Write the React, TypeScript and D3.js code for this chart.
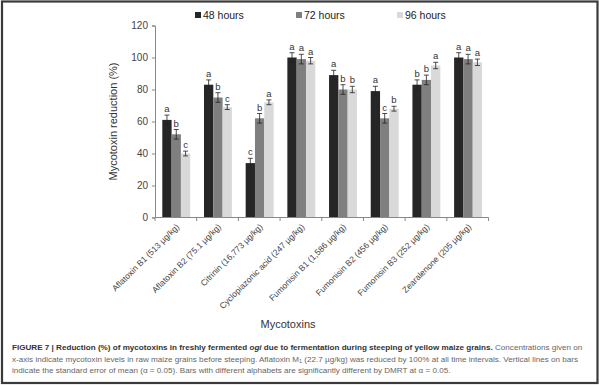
import { useRef, useEffect } from 'react';
import * as d3 from 'd3';

const categories = [
	'Aflatoxin B1 (513 µg/kg)',
	'Aflatoxin B2 (75.1 µg/kg)',
	'Citrinin (16,773 µg/kg)',
	'Cyclopiazonic acid (247 µg/kg)',
	'Fumonisin B1 (1,586 µg/kg)',
	'Fumonisin B2 (456 µg/kg)',
	'Fumonisin B3 (252 µg/kg)',
	'Zearalenone (205 µg/kg)',
];
const seriesNames = ['48 hours', '72 hours', '96 hours'];
const h48 = [61, 83, 34, 100, 89, 79, 83, 100];
const h72 = [52, 75, 62, 99, 80, 62, 86, 99];
const h96 = [40, 69, 72, 98, 80, 68, 95, 97];
const se48 = [3, 3, 3, 3, 3, 3, 3, 3];
const se72 = [3, 3, 3, 3, 3, 3, 3, 3];
const se96 = [1.5, 1.5, 1.5, 2, 2, 1.5, 2, 2];
const letters48 = ['a', 'a', 'c', 'a', 'a', 'a', 'b', 'a'];
const letters72 = ['b', 'b', 'b', 'a', 'b', 'c', 'b', 'a'];
const letters96 = ['c', 'c', 'a', 'a', 'b', 'b', 'a', 'a'];
const yTicks = [0, 20, 40, 60, 80, 100, 120];
const colors = ['#262626', '#7f7f7f', '#d9d9d9'];

const WIDTH = 600;
const HEIGHT = 385;
const FONT = "'Liberation Sans Narrow', 'Liberation Sans', sans-serif";
const CAP_FONT = "'Liberation Sans', Arial, sans-serif";

export default function App() {
	const svgRef = useRef<SVGSVGElement>(null);

	useEffect(() => {
		const svg = d3.select(svgRef.current);
		svg.selectAll('*').remove();

		const values = [h48, h72, h96];
		const errors = [se48, se72, se96];
		const letters = [letters48, letters72, letters96];

		const x = d3
			.scaleBand<string>()
			.domain(categories)
			.range([155, 488.5])
			.padding(0);
		const bw = x.bandwidth();
		const xInner = d3
			.scaleBand<string>()
			.domain(seriesNames)
			.range([bw * 0.175, bw * 0.845])
			.padding(0);
		const y = d3.scaleLinear().domain([0, 120]).range([217.5, 25.5]);

		// frame
		svg.append('rect')
			.attr('x', 2)
			.attr('y', 1.5)
			.attr('width', WIDTH - 4.5)
			.attr('height', HEIGHT - 3.5)
			.attr('fill', 'white')
			.attr('stroke', '#3a3a3a')
			.attr('stroke-width', 2.2);

		// bars
		const groups = svg
			.append('g')
			.selectAll('g')
			.data(categories)
			.join('g')
			.attr('transform', (c) => `translate(${x(c)},0)`);

		seriesNames.forEach((s, si) => {
			groups
				.append('rect')
				.attr('x', xInner(s)!)
				.attr('width', xInner.bandwidth())
				.attr('y', (_, i) => y(values[si][i]))
				.attr('height', (_, i) => y(0) - y(values[si][i]))
				.attr('fill', colors[si]);
		});

		// error bars + letters
		seriesNames.forEach((s, si) => {
			const cx = xInner(s)! + xInner.bandwidth() / 2;
			groups.each(function (_, i) {
				const g = d3.select(this);
				const v = values[si][i];
				const e = errors[si][i];
				g.append('line')
					.attr('x1', cx)
					.attr('x2', cx)
					.attr('y1', y(v - e))
					.attr('y2', y(v + e))
					.attr('stroke', '#222')
					.attr('stroke-width', 0.8);
				[v - e, v + e].forEach((yy) => {
					g.append('line')
						.attr('x1', cx - 2.5)
						.attr('x2', cx + 2.5)
						.attr('y1', y(yy))
						.attr('y2', y(yy))
						.attr('stroke', '#222')
						.attr('stroke-width', 0.8);
				});
				g.append('text')
					.attr('x', cx)
					.attr('y', y(v + e) - 3)
					.attr('text-anchor', 'middle')
					.attr('font-size', 9.5)
					.attr('fill', '#333')
					.text(letters[si][i]);
			});
		});

		// y axis
		const yAxis = svg
			.append('g')
			.attr('transform', 'translate(155,0)')
			.call(d3.axisLeft(y).tickValues(yTicks).tickSize(3).tickPadding(4));
		yAxis.select('.domain').attr('stroke', '#888');
		yAxis.selectAll('.tick line').attr('stroke', '#888');
		yAxis.selectAll('text')
			.attr('font-size', 10)
			.attr('font-family', FONT)
			.attr('fill', '#444');

		// x axis
		const x0 = x.range()[0];
		const x1 = x.range()[1];
		svg.append('line')
			.attr('x1', x0)
			.attr('x2', x1)
			.attr('y1', y(0))
			.attr('y2', y(0))
			.attr('stroke', '#888');
		const tickXs = categories.map((c) => x(c)!).concat([x1]);
		svg.append('g')
			.selectAll('line')
			.data(tickXs)
			.join('line')
			.attr('x1', (d) => d)
			.attr('x2', (d) => d)
			.attr('y1', y(0))
			.attr('y2', y(0) + 3.5)
			.attr('stroke', '#888');

		svg.append('g')
			.selectAll('text')
			.data(categories)
			.join('text')
			.attr(
				'transform',
				(c) => `translate(${x(c)! + bw / 2 + 4},${y(0) + 10}) rotate(-45)`,
			)
			.attr('text-anchor', 'end')
			.attr('font-size', 8.5)
			.attr('font-family', FONT)
			.attr('fill', '#444')
			.text((c) => c);

		// axis titles
		svg.append('text')
			.attr('transform', `translate(117,${y(60)}) rotate(-90)`)
			.attr('text-anchor', 'middle')
			.attr('font-size', 11)
			.attr('font-family', FONT)
			.attr('fill', '#333')
			.text('Mycotoxin reduction (%)');

		svg.append('text')
			.attr('x', 288)
			.attr('y', 328)
			.attr('text-anchor', 'middle')
			.attr('font-size', 11)
			.attr('font-family', FONT)
			.attr('fill', '#333')
			.text('Mycotoxins');

		// legend
		const legendX = [195, 296, 397];
		seriesNames.forEach((s, si) => {
			svg.append('rect')
				.attr('x', legendX[si])
				.attr('y', 12)
				.attr('width', 6)
				.attr('height', 6)
				.attr('fill', colors[si]);
			svg.append('text')
				.attr('x', legendX[si] + 8)
				.attr('y', 19)
				.attr('font-size', 10.5)
				.attr('font-family', FONT)
				.attr('fill', '#222')
				.text(s);
		});

		// caption
		const cap = svg
			.append('g')
			.attr('font-family', CAP_FONT)
			.attr('font-size', 8.1);
		const l1 = cap.append('text').attr('x', 12).attr('y', 350);
		l1.append('tspan')
			.attr('font-weight', 'bold')
			.attr('fill', '#333')
			.text('FIGURE 7 | Reduction (%) of mycotoxins in freshly fermented ');
		l1.append('tspan')
			.attr('font-weight', 'bold')
			.attr('font-style', 'italic')
			.attr('fill', '#333')
			.text('ogi');
		l1.append('tspan')
			.attr('font-weight', 'bold')
			.attr('fill', '#333')
			.text(' due to fermentation during steeping of yellow maize grains.');
		l1.append('tspan')
			.attr('fill', '#666')
			.text(' Concentrations given on');

		const l2 = cap.append('text').attr('x', 12).attr('y', 361.5).attr('fill', '#666');
		l2.append('tspan').text(
			'x-axis indicate mycotoxin levels in raw maize grains before steeping. Aflatoxin M',
		);
		l2.append('tspan').attr('font-size', 5.5).attr('dy', 1.5).text('1');
		l2.append('tspan')
			.attr('dy', -1.5)
			.text(
				' (22.7 µg/kg) was reduced by 100% at all time intervals. Vertical lines on bars',
			);

		cap.append('text')
			.attr('x', 12)
			.attr('y', 373)
			.attr('fill', '#666')
			.text(
				'indicate the standard error of mean (α = 0.05). Bars with different alphabets are significantly different by DMRT at α = 0.05.',
			);
	}, []);

	return (
		<svg
			ref={svgRef}
			width={WIDTH}
			height={HEIGHT}
			style={{
				position: 'absolute',
				left: 0,
				top: 0,
				display: 'block',
				fontFamily: FONT,
				background: 'white',
			}}
		/>
	);
}
